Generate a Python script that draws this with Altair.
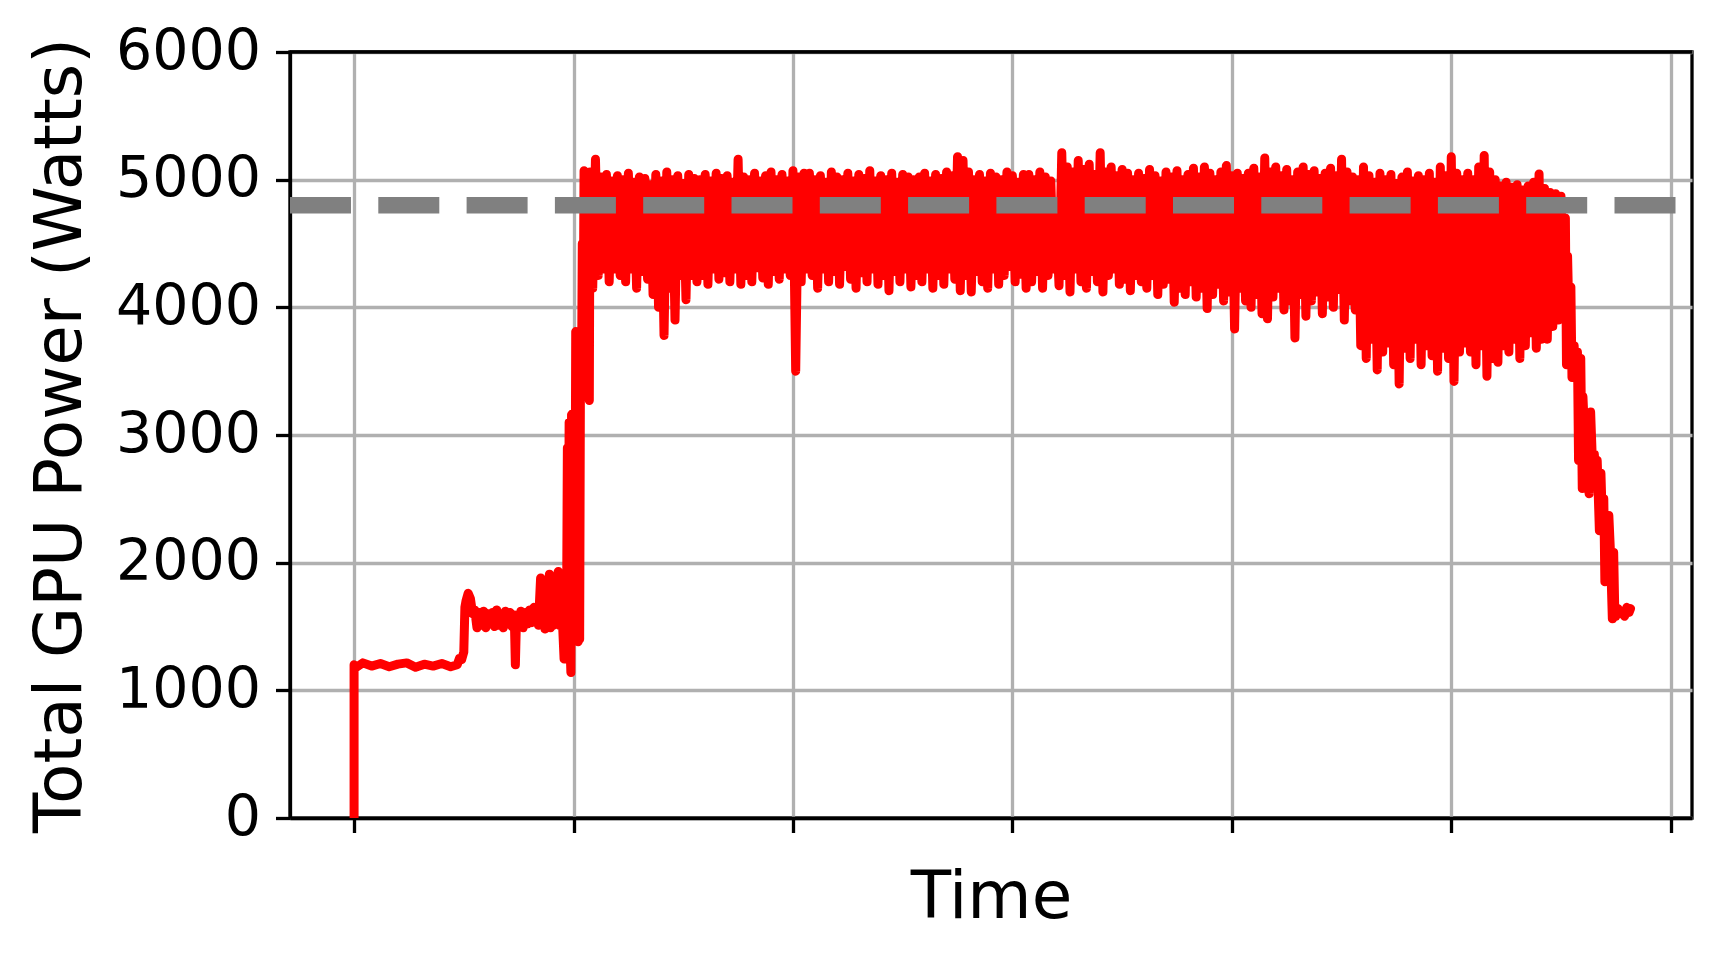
import altair as alt
import pandas as pd

# ---------------- data ----------------
x_ticks = [0, 1, 2, 3, 4, 5, 6]
y_ticks = [0, 1000, 2000, 3000, 4000, 5000, 6000]
power_cap = 4800

# start-up phase: idle step, warm-up plateau, ramp
early_t = [0, 0, 0.01, 0.04, 0.08, 0.12, 0.16, 0.20, 0.24, 0.28,
           0.32, 0.36, 0.40, 0.44, 0.47, 0.48, 0.49, 0.50, 0.505, 0.51,
           0.52, 0.53, 0.54, 0.55, 0.56, 0.57, 0.58, 0.59, 0.60, 0.61,
           0.62, 0.63, 0.64, 0.65, 0.66, 0.67, 0.68, 0.69, 0.70, 0.71,
           0.72, 0.73, 0.735, 0.74, 0.75, 0.76, 0.77, 0.78, 0.79, 0.80,
           0.81, 0.82, 0.83, 0.84, 0.85, 0.855, 0.86, 0.87, 0.88, 0.89,
           0.895, 0.90, 0.91, 0.92, 0.93, 0.935, 0.94, 0.95, 0.957, 0.962,
           0.968, 0.972, 0.976, 0.98, 0.984, 0.988, 0.991, 0.994, 0.997, 1.0,
           1.003, 1.006, 1.01, 1.014, 1.017, 1.021, 1.025, 1.028, 1.032, 1.036,
           1.04, 1.044, 1.048, 1.052, 1.056, 1.06, 1.065, 1.072]
early_p = [0, 1200, 1180, 1215, 1190, 1210, 1185, 1205, 1215, 1180,
           1205, 1190, 1210, 1185, 1200, 1250, 1240, 1300, 1650, 1700,
           1760, 1720, 1600, 1630, 1490, 1610, 1510, 1620, 1490, 1600,
           1520, 1610, 1500, 1630, 1510, 1600, 1490, 1620, 1520, 1610,
           1500, 1590, 1200, 1560, 1510, 1620, 1490, 1610, 1520, 1630,
           1530, 1650, 1600, 1510, 1880, 1510, 1610, 1480, 1620, 1910,
           1490, 1610, 1510, 1630, 1930, 1510, 1610, 1520, 1245, 1600,
           1480, 2900, 1300, 3100, 1350, 1140, 3160, 1400, 3170, 1450,
           3100, 1500, 3810, 1600, 3800, 1380, 3000, 1400, 3700, 3300,
           4500, 3800, 5070, 4300, 5000, 4400, 4900, 3270]

# full-load phase: sampled every 0.025 time units from t=1.075,
# each sample = a high reading followed by a low reading
band_t0 = 1.075
band_dt = 0.025
band_hi = [
    5060, 5160, 5020, 5040, 4990, 5030, 5000, 5050, 4980, 5020, 5010, 4960, 5040, 4990, 5060, 5000, 5030, 4970, 5040, 5010,
    5000, 5040, 4990, 5050, 5010, 5030, 4980, 5160, 5020, 5000, 5050, 4990, 5030, 5060, 5000, 5040, 4990, 5070, 5020, 5050,
    5050, 5000, 5030, 4980, 5060, 5020, 5000, 5050, 4990, 5040, 5010, 5070, 4990, 5030, 5000, 5050, 4980, 5040, 5020, 5000,
    5020, 5050, 4990, 5040, 5010, 5060, 5030, 5180, 5150, 5060, 5000, 5040, 4990, 5050, 5020, 5000, 5060, 5030, 4980, 5040,
    5040, 5000, 5060, 5020, 4990, 4700, 5210, 5100, 5060, 5150, 5080, 5120, 5040, 5210, 5060, 5100, 5030, 5080, 5050, 5000,
    5050, 5010, 5080, 5030, 4990, 5060, 5020, 5070, 5000, 5040, 5090, 5020, 5100, 5050, 5000, 5060, 5110, 5030, 5050, 5010,
    5050, 5090, 5020, 5170, 5060, 5100, 5030, 5080, 5000, 5060, 5100, 5040, 5070, 5010, 5050, 5090, 5030, 5160, 5060, 5020,
    5000, 5100, 5030, 4980, 5050, 5000, 5040, 4970, 5020, 5060, 4990, 5030, 5000, 5050, 4980, 5100, 5030, 5180, 5050, 5000,
    5050, 5000, 5100, 5190, 5060, 5000, 4950, 4980, 4940, 4960, 4920, 4950, 4980, 5045, 4930, 4900, 4890, 4870,
]
band_lo = [
    4150, 4250, 4300, 4200, 4300, 4250, 4200, 4300, 4150, 4280, 4220, 4100, 4000, 3780, 4150, 3900, 4250, 4060, 4250, 4200,
    4250, 4180, 4300, 4220, 4270, 4200, 4300, 4180, 4250, 4200, 4310, 4230, 4180, 4280, 4220, 4300, 4250, 3500, 4200, 4300,
    4250, 4150, 4300, 4200, 4280, 4180, 4320, 4220, 4150, 4270, 4200, 4300, 4180, 4250, 4130, 4280, 4200, 4300, 4160, 4250,
    4200, 4300, 4150, 4250, 4180, 4300, 4220, 4130, 4250, 4120, 4280, 4200, 4150, 4300, 4180, 4250, 4320, 4200, 4260, 4150,
    4200, 4280, 4150, 4250, 4300, 4170, 4250, 4120, 4300, 4200, 4150, 4280, 4200, 4120, 4250, 4300, 4180, 4220, 4130, 4250,
    4200, 4150, 4250, 4100, 4180, 4220, 4040, 4150, 4100, 4200, 4080, 4150, 3990, 4100, 4180, 4050, 4120, 3830, 4150, 4050,
    4000, 4100, 3950, 3910, 4080, 4150, 3980, 4050, 3760, 4100, 3930, 4050, 4120, 3950, 4080, 4000, 4140, 3900, 4050, 3980,
    3700, 3600, 3750, 3510, 3650, 3720, 3550, 3400, 3680, 3600, 3750, 3550, 3700, 3620, 3500, 3680, 3600, 3420, 3650, 3720,
    3650, 3550, 3700, 3460, 3600, 3570, 3700, 3650, 3750, 3600, 3700, 3800, 3680, 3750, 3750, 3850, 3900, 3950,
]

# ramp-down phase
tail_t = [5.52, 5.525, 5.53, 5.54, 5.545, 5.55, 5.56, 5.565, 5.575, 5.58,
          5.59, 5.597, 5.60, 5.61, 5.62, 5.628, 5.635, 5.645, 5.652, 5.658,
          5.665, 5.675, 5.682, 5.688, 5.695, 5.70, 5.705, 5.711, 5.718, 5.725,
          5.734, 5.74, 5.745, 5.75, 5.76, 5.77, 5.78, 5.79, 5.80, 5.81, 5.817]
tail_p = [4700, 3550, 4400, 3600, 4160, 3450, 3700, 3450, 3650, 2800,
          3600, 2580, 3300, 2900, 3090, 2540, 3180, 2700, 2850, 2600,
          2800, 2250, 2700, 2350, 2500, 1850, 2300, 2000, 2370, 2100,
          1560, 2080, 1620, 1580, 1640, 1600, 1620, 1580, 1650, 1610, 1640]

assert len(early_t) == len(early_p)
assert len(band_hi) == len(band_lo)
assert len(tail_t) == len(tail_p)

rows = list(zip(early_t, early_p))
for i, (h, l) in enumerate(zip(band_hi, band_lo)):
    t = band_t0 + i * band_dt
    rows.append((t, h))
    rows.append((t + band_dt / 2, l))
rows += list(zip(tail_t, tail_p))
df = pd.DataFrame(rows, columns=["t", "p"])
df["i"] = range(len(df))

# ---------------- chart ----------------
FONT = "DejaVu Sans"
LW = 3.3

x_scale = alt.Scale(domain=[-0.292, 6.097], nice=False, zero=False)
y_scale = alt.Scale(domain=[0, 6000], nice=False, zero=False)

line = alt.Chart(df).mark_line(
    color="#ff0000", strokeWidth=9, strokeCap="round", strokeJoin="round", clip=True
).encode(
    x=alt.X("t:Q", scale=x_scale,
            axis=alt.Axis(values=x_ticks, labels=False, title="Time",
                          titleX=701, titleY=99, titleAlign="center",
                          titleBaseline="alphabetic")),
    y=alt.Y("p:Q", scale=y_scale,
            axis=alt.Axis(values=y_ticks, format="d", title="Total GPU Power (Watts)",
                          titleAngle=270, titleX=-210, titleY=383,
                          titleAlign="center", titleBaseline="alphabetic",
                          labelPadding=15)),
    order="i:Q",
)

cap = alt.Chart(pd.DataFrame({"p": [power_cap]})).mark_rule(
    color="#808080", strokeWidth=16.5, strokeDash=[61, 27.3],
    strokeDashOffset=71.8, strokeCap="butt"
).encode(y="p:Q")

top_frame = alt.Chart(pd.DataFrame({"p": [6000]})).mark_rule(
    color="black", strokeWidth=LW
).encode(y="p:Q")

chart = alt.layer(line, cap, top_frame).properties(
    width=1402, height=766,
    autosize=alt.AutoSizeParams(type="none"),
    padding={"left": 282, "top": 44, "right": 20, "bottom": 135},
).configure_view(
    stroke="black", strokeWidth=LW
).configure_axis(
    domainColor="black", domainWidth=LW,
    tickColor="black", tickWidth=LW, tickSize=14.5,
    grid=True, gridColor="#b0b0b0", gridWidth=LW,
    labelFont=FONT, labelFontSize=57, labelColor="black",
    titleFont=FONT, titleFontSize=66, titleFontWeight="normal", titleColor="black",
)

chart.save("out.html", embed_options={"renderer": "svg", "actions": False})
